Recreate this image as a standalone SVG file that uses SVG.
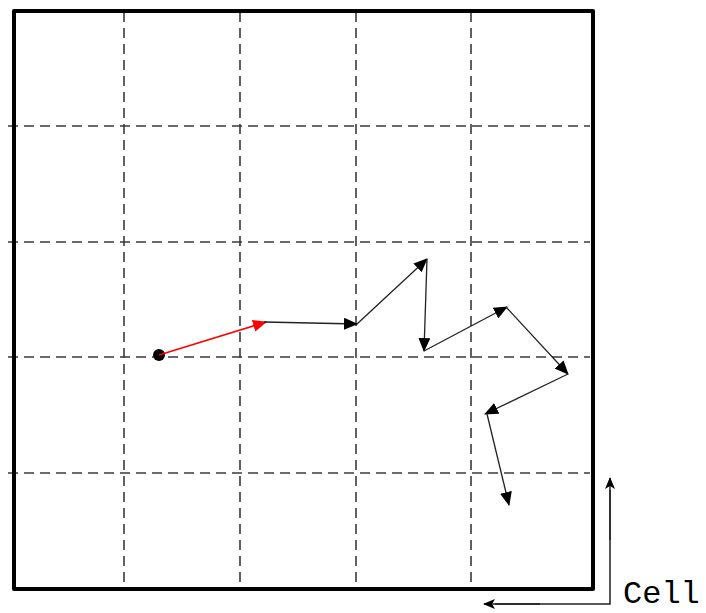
<svg xmlns="http://www.w3.org/2000/svg" width="706" height="613" viewBox="0 0 706 613">
<style>
.grid{stroke:#3a3a3a;stroke-width:1.6;stroke-dasharray:10 6;fill:none}
.step{stroke:#222;stroke-width:1.3;fill:none;marker-end:url(#ah)}
.red{stroke:#ff0000;stroke-width:1.6;fill:none;marker-end:url(#ahr)}
.ann{stroke:#222;stroke-width:1.5;fill:none}
</style>
<defs>
<marker id="ah" markerUnits="userSpaceOnUse" markerWidth="14" markerHeight="12" viewBox="0 0 14 12" refX="13" refY="6" orient="auto"><path d="M0,0 L14,6 L0,12 Z" fill="#000"/></marker>
<marker id="ahr" markerUnits="userSpaceOnUse" markerWidth="14" markerHeight="12" viewBox="0 0 14 12" refX="13" refY="6" orient="auto"><path d="M0,0 L14,6 L0,12 Z" fill="#ff0000"/></marker>
<marker id="sa" markerUnits="userSpaceOnUse" markerWidth="12" markerHeight="10" viewBox="0 0 12 10" refX="11" refY="5" orient="auto"><path d="M0,0 L12,5 L0,10 L3,5 Z" fill="#000"/></marker>
</defs>
<rect width="706" height="613" fill="#fff"/>
<g id="grid">
<line class="grid" x1="124" y1="12" x2="124" y2="588"/>
<line class="grid" x1="240" y1="12" x2="240" y2="588"/>
<line class="grid" x1="356" y1="12" x2="356" y2="588"/>
<line class="grid" x1="471" y1="12" x2="471" y2="588"/>
<line class="grid" x1="8" y1="126" x2="590" y2="126"/>
<line class="grid" x1="8" y1="242" x2="590" y2="242"/>
<line class="grid" x1="8" y1="357" x2="590" y2="357"/>
<line class="grid" x1="8" y1="473" x2="590" y2="473"/>
</g>
<g id="cell-boundary">
<rect x="14" y="11" width="579" height="578" fill="none" stroke="#000" stroke-width="4" stroke-linejoin="round"/>
</g>
<g id="start">
<circle cx="159" cy="355" r="6" fill="#000"/>
</g>
<g id="connectors">
<line class="red" x1="159" y1="355" x2="266" y2="322"/>
<line class="step" x1="264" y1="322" x2="357" y2="324"/>
<line class="step" x1="357" y1="324" x2="427" y2="259"/>
<line class="step" x1="427" y1="259" x2="424" y2="351"/>
<line class="step" x1="424" y1="351" x2="507" y2="307"/>
<line class="step" x1="506" y1="307" x2="568" y2="374"/>
<line class="step" x1="568" y1="374" x2="485" y2="414"/>
<line class="step" x1="487" y1="414" x2="509" y2="505"/>
</g>
<g id="cell-label">
<polyline class="ann" points="610,490 610,604 495,604"/>
<line class="ann" x1="540" y1="604" x2="484" y2="604" marker-end="url(#sa)"/>
<line class="ann" x1="610" y1="540" x2="610" y2="478" marker-end="url(#sa)"/>
<text x="623" y="603" font-family="Liberation Mono, monospace" font-size="32" fill="#000">Cell</text>
</g>
</svg>
